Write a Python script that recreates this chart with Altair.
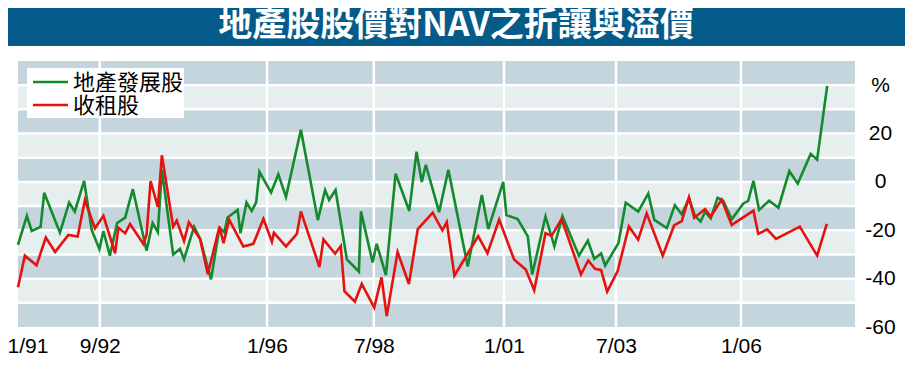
import altair as alt
import pandas as pd

TITLE = "地產股股價對NAV之折讓與溢價"
SERIES = ["地產發展股", "收租股"]
COLORS = ["#138a2c", "#e5130f"]
BAR = "#045a88"
DARK = "#c5d5de"
LIGHT = "#e6eeee"

# x = months since Jan 1991 as placed on the original chart, y = % discount/premium to NAV
dev_month = [0, 2.2, 3.4, 5.6, 6.5, 10.4, 12.7, 14.1, 16.4, 18.3, 20.2, 21.2, 22.8, 24.6, 26.6, 28.5,
             31.9, 33.4, 34.7, 35.7, 38.5, 40.2, 41.2, 43.7, 45.2, 47.9, 50.0, 51.2, 52.0, 54.5, 55.2,
             56.7, 58.0, 59.1, 59.9, 62.8, 64.6, 66.5, 70.2, 74.4, 76.2, 77.2, 78.8, 81.6, 84.6, 85.1,
             88.0, 89.0, 91.3, 93.7, 97.1, 98.9, 100.2, 101.2, 104.5, 106.8, 111.6, 115.1, 116.7, 120.4,
             121.2, 124.0, 126.5, 127.6, 130.9, 133.1, 135.1, 139.2, 141.4, 143.0, 144.7, 145.7, 149.0,
             150.8, 153.9, 156.4, 157.9, 161.0, 163.0, 164.7, 166.5, 168.0, 169.4, 170.5, 171.9, 173.6,
             175.0, 177.1, 180.0, 181.2, 182.5, 183.9, 186.4, 188.7, 191.4, 193.5, 196.7, 198.3, 200.8]
dev_value = [-26, -14, -20.3, -18.6, -4.5, -21, -8.6, -12.3, 0.4, -20, -27.8, -20.3, -30.5, -17, -14.8, -3,
             -28.5, -17, -20.8, 5, -30, -27.7, -32, -18.5, -23.6, -40.3, -19, -20.8, -14.7, -11.6, -21.2,
             -8.5, -12, -8.5, 4.2, -4.4, 3.2, -6.2, 21.6, -15.8, -3.4, -7.5, -3.4, -32, -37.1, -12.2,
             -33.3, -25.6, -38.5, 3.4, -12, 12.5, 0, 7.1, -12.5, 5, -35, -5.4, -19.5, 0,
             -13.7, -15.4, -22.5, -38.3, -14.3, -26.6, -14.1, -30.5, -24.3, -31.8, -29.6, -34.6, -25.3,
             -8.6, -12.3, -4.8, -15.7, -19.1, -9.6, -13.4, -6.8, -14.1, -16.4, -12.3, -15.1, -6.6,
             -7.8, -15.5, -8.9, -7.8, 0.4, -11.6, -7.8, -10.7, 4.5, -0.7, 11.6, 9.2, 39.7]

rent_month = [0, 1.7, 4.6, 6.9, 9.2, 12.5, 14.8, 16.6, 19.1, 21.2, 24.1, 24.9, 26.6, 27.8, 31.1, 31.9,
              32.9, 34.7, 35.7, 38.5, 39.4, 41.2, 42.4, 45.2, 47.1, 50.0, 51.0, 52.4, 55.9, 58.4, 60.9,
              63.0, 63.5, 66.5, 69.2, 70.2, 74.8, 75.8, 78.7, 80.1, 81.0, 83.6, 85.3, 88.4, 90.2, 91.5,
              94.2, 97.0, 99.2, 102.9, 105.3, 106.4, 108.3, 114.2, 116.5, 119.4, 123.1, 126.0, 128.1,
              130.9, 132.4, 134.9, 139.7, 141.5, 143.2, 144.7, 146.2, 148.8, 151.6, 153.9, 156.0, 160.0,
              162.8, 164.7, 166.5, 167.8, 170.5, 171.9, 174.6, 177.1, 182.5, 183.7, 185.9, 188.1, 194.0,
              198.3, 200.7]
rent_value = [-43.6, -30.5, -34.5, -23, -29, -21.9, -22.6, -7.5, -19.2, -14, -29.5, -18.9, -21.2, -17.4,
              -25.6, -21.9, 0.3, -10.3, 11, -18.5, -16, -24.5, -16.7, -23.6, -38.2, -18.5, -25.3, -15.6,
              -26.7, -25.6, -15.3, -24.7, -21, -26.7, -21.5, -12.2, -35.2, -23.8, -29.7, -26.5, -45.2,
              -49.5, -42.2, -52, -39.5, -55.5, -29, -42.2, -19.5, -12.7, -20, -16.6, -38.8, -22.4, -29.5,
              -15.6, -32.1, -36.2, -44.8, -21.2, -22.3, -15.4, -38.3, -32.5, -35.9, -36.5, -45.4, -36.9,
              -18.4, -23.9, -13, -30.5, -18, -16.2, -6.4, -14.8, -11.2, -14.4, -7.3, -17.8, -11.9, -21.5,
              -19.6, -23.6, -18.5, -30.5, -17.4]

tick_months = [0, 20.3, 61.8, 88.3, 120.6, 148.4, 179.4]
tick_labels = ["1/91", "9/92", "1/96", "7/98", "1/01", "7/03", "1/06"]
y_ticks = [-60, -40, -20, 0, 20, 40]

W, H = 837, 266
xscale = alt.Scale(domain=[0, 207.7], nice=False, zero=False)
yscale = alt.Scale(domain=[-60, 50], nice=False, zero=False)

label_expr = "''"
for m, lab in reversed(list(zip(tick_months, tick_labels))):
    label_expr = f"datum.value == {m} ? '{lab}' : ({label_expr})"

x_axis = alt.Axis(
    values=tick_months, labelExpr=label_expr, title=None, grid=False, domain=False,
    ticks=False, tickSize=0, labelFontSize=21, labelFont="Liberation Sans", labelColor="black",
    labelPadding=8, labelFlush=True, labelFlushOffset=11,
)
y_axis = alt.Axis(
    orient="right", values=y_ticks,
    labelExpr="datum.value == 40 ? '%' : toString(datum.value)",
    title=None, grid=False, domain=False, ticks=False, tickSize=0,
    labelFontSize=21, labelFont="Liberation Sans", labelColor="black",
    labelAlign="center", labelPadding=25,
)

band_lo = list(range(-60, 50, 10))
bands = pd.DataFrame({
    "lo": band_lo,
    "hi": [v + 10 for v in band_lo],
    "fill": [DARK if i % 2 == 0 else LIGHT for i in range(len(band_lo))],
})
band_layer = alt.Chart(bands).mark_rect().encode(
    x=alt.value(0), x2=alt.value(W),
    y=alt.Y("lo:Q", scale=yscale, axis=y_axis),
    y2="hi:Q",
    fill=alt.Fill("fill:N", scale=None),
)

hrules = alt.Chart(pd.DataFrame({"v": list(range(-50, 50, 10))})).mark_rule(
    color="white", strokeWidth=2.5
).encode(y=alt.Y("v:Q", scale=yscale, axis=y_axis))

vrules = alt.Chart(pd.DataFrame({"m": tick_months[1:]})).mark_rule(
    color="white", strokeWidth=2.5
).encode(x=alt.X("m:Q", scale=xscale, axis=x_axis))

color_enc = alt.Color("series:N", scale=alt.Scale(domain=SERIES, range=COLORS), legend=None)

dev_df = pd.DataFrame({"month": dev_month, "value": dev_value, "series": SERIES[0]})
rent_df = pd.DataFrame({"month": rent_month, "value": rent_value, "series": SERIES[1]})

dev_layer = alt.Chart(dev_df).mark_line(strokeWidth=2.6).encode(
    x=alt.X("month:Q", scale=xscale, axis=x_axis),
    y=alt.Y("value:Q", scale=yscale, axis=y_axis),
    color=color_enc,
)
rent_layer = alt.Chart(rent_df).mark_line(strokeWidth=2.6).encode(
    x=alt.X("month:Q", scale=xscale, axis=x_axis),
    y=alt.Y("value:Q", scale=yscale, axis=y_axis),
    color=color_enc,
)

# legend box (drawn by hand so rows sit as close as in the original)
legend_df = pd.DataFrame({
    "series": SERIES,
    "color": COLORS,
    "row_y": [21, 44],
})
legend_box = alt.Chart(pd.DataFrame({"k": [0]})).mark_rect(color="white").encode(
    x=alt.value(9), x2=alt.value(166), y=alt.value(7), y2=alt.value(57)
)
legend_lines = alt.Chart(legend_df).mark_rule(strokeWidth=2.6).encode(
    x=alt.value(15), x2=alt.value(50), y=alt.Y("row_y:Q", scale=None, axis=None),
    color=alt.Color("color:N", scale=None),
)
legend_text = alt.Chart(legend_df).mark_text(
    font="Noto Sans CJK TC", fontSize=22, color="black", align="left", baseline="middle", dy=1
).encode(x=alt.value(55), y=alt.Y("row_y:Q", scale=None, axis=None), text="series:N")

title_df = pd.DataFrame({"t": [TITLE]})
bar = alt.Chart(title_df).mark_rect(color=BAR).encode(
    x=alt.value(-10), x2=alt.value(W + 50), y=alt.value(-53), y2=alt.value(-15)
)
title_text = alt.Chart(title_df).mark_text(
    font="Noto Sans CJK TC", fontSize=34, fontWeight="bold", color="white",
    align="center", baseline="middle",
).encode(x=alt.value(438), y=alt.value(-35), text="t:N")

chart = alt.layer(
    band_layer, hrules, vrules, dev_layer, rent_layer,
    legend_box, legend_lines, legend_text, bar, title_text
).properties(
    width=W, height=H,
    padding={"left": 10, "top": 53, "right": 50, "bottom": 32},
    autosize=alt.AutoSizeParams(type="none"),
    background="white",
).configure_view(stroke=None)

chart.save("out.html", embed_options={"renderer": "svg", "actions": False})
